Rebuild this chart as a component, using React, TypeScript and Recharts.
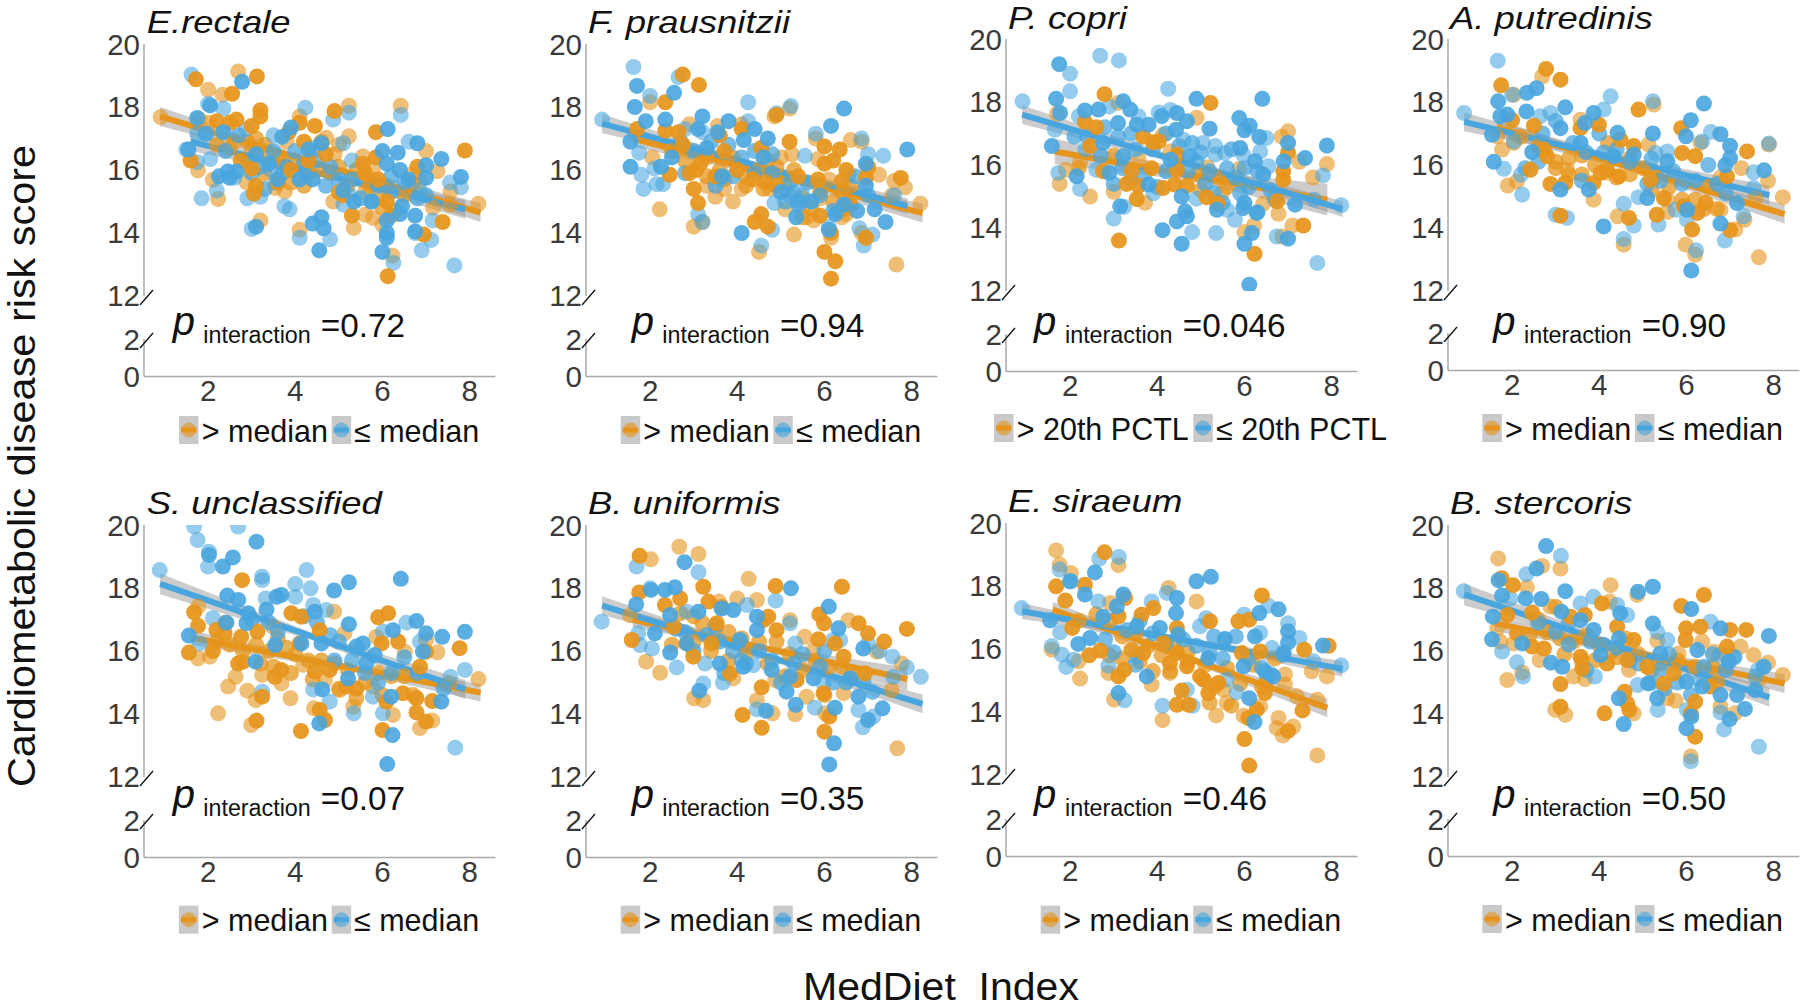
import React from "react";
import { ComposedChart, Scatter, Area, Line, XAxis, YAxis } from "recharts";

type P = [number, number];
type B = [number, number, number];

const xTicks = [2, 4, 6, 8];
const upperTicks = [12, 14, 16, 18, 20];
const lowerTicks = [0, 2];

// E. rectale
const p1OrangeLight: P[] = [[0.91,17.68],[2,18.55],[2.69,19.13],[2.33,18.39],[1.77,15.99],[2.11,15.69],[2.23,15.08],[2.88,15.61],[4.1,14.1],[3.2,14.4],[4.87,15],[5.23,18.04],[6.42,18.04],[8.2,14.93],[5.34,14.16],[5.55,16.43],[5.6,14.58],[5.78,14.48],[6,14.26],[6.23,13.28],[7,16.6],[7.26,15.96],[7.56,15.32],[7.16,14.8],[4.1,17.7],[5.23,17.07],[4.71,17.02],[3.53,15.43],[3.76,15.32],[6.66,15.85],[6.86,15.64],[5.78,16.01],[2,17.5],[1.8,17.6],[2.6,16.9],[3,16.6],[3.4,16.4],[3.8,16.9],[4.4,16.6],[4.9,16.5],[5,16.8],[5.6,15.3],[6.1,15.5],[7.55,14.9]];
const p1OrangeDark: P[] = [[1.72,18.88],[3.12,18.97],[2.55,18.42],[1.6,16.3],[3.2,17.9],[3.2,17.7],[2.65,17.6],[2.2,17.55],[2.5,17.5],[3,17.4],[3.1,15.5],[3.05,15.25],[4.9,17.87],[4.45,17.4],[4.1,17.5],[3.85,17.2],[4.2,16.9],[5.85,17.2],[5.85,16.4],[5.55,16.2],[6.8,16.1],[7.89,16.62],[7.38,14.35],[6.95,13.95],[6.12,12.63],[5.3,14.55],[6.2,14.55],[3,16.05],[2.75,16.3],[3.6,15.6],[3.9,16],[4.3,16.3],[4.7,16.5],[5.1,15.2],[5.6,15.9],[6.1,15],[5.9,15.7],[5,15.3]];
const p1OrangeCloud: P[] = [[3.1,17],[3.3,16.8],[2.9,16.9],[3.6,16.4],[3.7,16.2],[4,16.3],[4.3,15.9],[4.5,16],[4.2,15.5],[3.9,15.6],[3.3,15.9],[2.5,16.7],[2.2,16.8],[4.6,16.9],[5.4,16],[5.7,15.5],[5.9,15.1],[6,14.8],[6.3,14.7],[6.5,15.2],[6.7,15.6],[5.2,15.5],[4.8,15.9],[5,16.1]];
const p1BlueLight: P[] = [[1.62,19.03],[2,18.1],[2.35,17.95],[4.23,17.98],[4.87,17.6],[5.23,17.82],[6.42,17.75],[2.87,17.3],[1.85,15.1],[2.9,15.1],[3,14.13],[3.2,15.15],[3.75,14.85],[3.87,14.75],[4.1,13.85],[4.8,13.8],[6.9,13.45],[7.12,13.78],[7.65,12.97],[6.25,13.05],[6.75,14],[7.55,15.6],[7.8,15.45],[7.15,14.4],[6.6,16.9],[5.25,15.2],[5.1,14.9],[2.2,15.35],[1.75,16.25],[2.05,16.35],[2.6,15.75],[3.45,16],[3.5,17.1],[4.4,16.7],[5.3,16.3],[5.1,16.85],[5.75,15],[6.85,15.35],[1.5,16.65],[1.75,17.15],[3.55,15.6]];
const p1BlueDark: P[] = [[2.78,18.8],[1.75,17.65],[2.05,18.05],[1.95,17.15],[2.35,17.2],[1.55,16.65],[2.45,15.95],[2.25,15.8],[2.5,15.75],[2.65,15.95],[3.1,14.2],[3.7,17.05],[3.9,17.35],[4.3,16.65],[4.6,16.85],[6.12,17.3],[6,16.6],[6.35,16.55],[6.8,16.85],[7.35,16.35],[7,16.15],[7,15.75],[7.8,15.78],[6.75,14.55],[6.75,14.05],[6.1,13.85],[6.1,14],[6,13.4],[4.55,13.45],[4.4,14.3],[4.6,14.5],[4.65,14.15],[3.6,15.7],[4.1,15.7],[4.4,15.7],[5.1,15.35],[5.35,15],[5.75,15],[6.1,16.2],[6.4,16],[6.45,14.85],[6.4,14.6],[6.1,14.4],[6.6,15.7],[3.1,16.5],[3.4,16.2]];
const p1BlueCloud: P[] = [[2.7,17.1],[2.4,16.6],[2.9,16.3],[3.2,16.1],[3.5,16.6],[3.8,16.1],[4,16.6],[4.2,16.2],[4.5,16.3],[4.8,16.1],[3.3,15.4],[3.7,15.9],[4.2,15.9],[4.7,15.5],[5.3,15.7],[5.5,15.1],[5.9,15.5],[6.2,15.3],[6.5,15.6],[6.8,15.1],[7,15.2],[6.2,15.8],[5,15.7],[3,15.9]];
const p1OrangeLine: P[] = [[0.9,17.7],[8.25,14.65]];
const p1BlueLine: P[] = [[1.6,16.9],[7.9,14.75]];
const p1OrangeBand: B[] = [[0.9,17.4,18],[4.6,16.06,16.26],[8.25,14.35,14.95]];
const p1BlueBand: B[] = [[1.6,16.6,17.2],[4.75,15.73,15.93],[7.9,14.45,15.05]];

// F. prausnitzii
const p2OrangeLight: P[] = [[2.22,14.75],[3,14.2],[3.2,14.35],[5.3,13.95],[7.65,13],[8.2,14.93],[7.85,15.45],[7.6,15.65],[7.25,15.85],[7.55,15.2],[6.6,16.95],[6.85,16.9],[4.5,13.4],[4.85,17.7],[5.2,17.95],[2.05,16.4],[2,18.15],[6.85,14],[7,16.05],[5.6,14.5],[5.75,14.4],[6.15,13.85],[5.1,14.75],[2.9,17.45],[3.55,17.4],[4.1,17.45],[3.5,15.15],[3.9,15],[4.1,15.4],[5.25,16.5],[5,16.4],[5.8,17],[5.85,16.35],[5.9,15.1],[6.4,14.5],[6.5,14.6],[3.3,15.5],[3.7,15.4],[4.75,15.4],[6.1,15.7]];
const p2OrangeDark: P[] = [[2.75,19.03],[3.12,18.7],[2.35,18.15],[1.7,17.3],[2.35,17.25],[2.65,17.2],[2.75,16.8],[2.45,15.85],[3,15.4],[3.1,14.95],[2.9,15.9],[3.05,16],[4.9,17.75],[4.1,17.3],[3.6,17.1],[5.2,16.9],[6,16.75],[6.35,16.65],[6,16.2],[6.2,16.3],[6.5,16],[6.4,15.65],[6.95,15.75],[7.75,15.75],[7,16.1],[6,13.4],[6.25,13.1],[6.15,12.55],[6.95,13.85],[4.55,14.6],[4.4,14.35],[4.7,14.2],[5.9,14.55],[6.15,14],[6.6,14.9],[6.45,14.75],[3.7,16.6],[4,16],[4.35,15.7],[4.65,15.6],[3.15,16.2],[3.5,15.8],[4.55,16.7],[5.4,15.8],[5.85,15.7],[4.9,15.5]];
const p2OrangeCloud: P[] = [[3.3,16.4],[3.6,16],[3.9,16.4],[4.2,15.8],[4.5,16],[4.7,16.3],[3.3,15.8],[3.7,15.7],[4.2,15.5],[4.6,15.4],[5.1,15.4],[5.5,15.1],[5.7,14.8],[5.9,15.3],[6.2,15],[6.4,15.3],[6.6,15.5],[5.5,14.5],[2.8,16.3],[2.5,16.6],[4.9,16.1],[5.3,16]];
const p2BlueLight: P[] = [[0.9,17.6],[1.62,19.27],[2.65,18.95],[2,18.35],[4.25,18.15],[4.9,17.8],[5.23,18.03],[6.85,17],[7,16.5],[7.35,16.45],[1.75,16.55],[1.8,15.85],[1.85,15.4],[2.1,16.05],[2.15,15.55],[2.3,15.55],[3.2,14.35],[3.1,14.6],[4.55,13.6],[4.8,14.1],[4.85,14.95],[6.9,13.6],[7.1,13.95],[6.8,14.15],[5.55,16.45],[6.1,14.2],[4.25,17.55],[3.2,17.2],[2.8,17.3],[6.55,15.85],[7.6,15.2],[5.8,17.15],[5.5,15.2],[5.2,15.2],[3.6,15.7]];
const p2BlueDark: P[] = [[1.7,18.67],[2.55,18.45],[1.65,18],[1.9,17.55],[2.35,17.6],[3.2,17.7],[3.8,17.55],[4.15,16.95],[1.55,16.9],[1.55,16.1],[2.25,16.1],[2.5,16.4],[4.1,14],[6.45,17.95],[6.15,17.4],[6.95,16.2],[7.9,16.65],[6.95,15.5],[6.75,14.7],[7.15,14.75],[7.4,14.35],[5.35,14.5],[4.6,16.4],[4.7,17],[4.4,17.3],[5,15.3],[5.4,15],[5.7,15],[3.65,15.8],[3.1,17.3],[3.55,17.2],[6.25,14.6],[6.1,14.1],[3.3,16.7],[6.45,14.9]];
const p2BlueCloud: P[] = [[2.7,16.9],[3,16.6],[3.4,16.9],[3.8,16.8],[4.1,16.4],[4.4,16.6],[4.8,16.5],[3.5,15.5],[3.9,15.8],[4.4,15.9],[4.8,15.9],[5.2,15.6],[5.4,14.9],[5.6,15.6],[5.9,15.2],[6.2,14.7],[6.5,14.9],[7,15.2],[5.1,15],[5.3,15.3],[6.7,15.8],[2.8,15.9]];
const p2OrangeLine: P[] = [[1.6,17],[8.25,14.63]];
const p2BlueLine: P[] = [[0.9,17.47],[7.9,14.85]];
const p2OrangeBand: B[] = [[1.6,16.75,17.25],[4.9,15.72,15.92],[8.25,14.33,14.93]];
const p2BlueBand: B[] = [[0.9,17.17,17.77],[4.4,16.06,16.26],[7.9,14.6,15.1]];

// P. copri
const p3OrangeLight: P[] = [[1.7,17.63],[1.76,15.4],[1.9,15.85],[2.46,15],[3,15.15],[3.1,17.97],[4.9,17.5],[4.13,16.96],[7,17.07],[6.85,16.9],[7.26,16.1],[7.89,16.03],[7.57,15.6],[6.78,14.45],[7.1,14.08],[6.87,13.73],[6,13.87],[6.22,14.08],[5.88,15.87],[5.15,15.93],[3.72,14.8],[3.57,16.17],[6.43,14.77],[2.23,16.1],[5.48,15.1],[4.3,16.43]];
const p3OrangeDark: P[] = [[2.79,18.25],[5.22,17.97],[2.34,17.37],[2.6,17.2],[2.46,16.6],[3.68,16.9],[3.9,16.72],[4.03,16.75],[2.76,15.8],[3.41,15.8],[3.57,15.34],[3.3,15.4],[3.53,14.92],[3.12,13.6],[4.13,15.27],[3.87,15.9],[4.45,16.33],[4.45,15.85],[4.4,15.38],[4.68,15.34],[5.13,14.98],[5.38,14.77],[6.89,15.8],[6.89,15.53],[7,16.4],[7.35,14.08],[6.23,13.18],[6.75,14.85]];
const p3OrangeCloud: P[] = [[5.6,15.3],[4.9,15.7],[3,16.3],[2.2,15.9],[5,15.2],[5.4,15.6]];
const p3BlueLight: P[] = [[0.91,18.02],[2.69,19.47],[3.12,19.32],[2,18.9],[2,18.34],[4.25,18.42],[4.03,17.67],[4.3,17.75],[2.9,17.86],[1.65,17.12],[1.73,15.75],[2.23,15.24],[3,14.3],[3.24,14.67],[4.8,13.87],[5.35,13.84],[5.6,14.58],[5.78,14.26],[6.74,13.73],[7.67,12.89],[8.22,14.72],[7.8,15.67],[6.5,16.86],[6.36,16.43],[5.55,16.38],[5.33,16.33],[5.33,16.6],[3.57,17.54],[3.91,15.1],[4.9,14.93],[6.55,15.96],[2.6,15.85],[2.35,16.5],[5.97,16.33],[7.6,14.9],[2.2,17.55],[4.6,16.8],[5.05,16.7]];
const p3BlueDark: P[] = [[1.75,19.2],[1.68,18.1],[1.77,17.65],[1.58,16.6],[2.34,17.73],[2.65,17.76],[3.22,18.02],[3.38,17.76],[3.1,17.33],[3.53,17.28],[3.8,17.28],[4.1,17.55],[4.45,17.65],[4.68,17.39],[4.43,17.12],[4.9,18.1],[5.2,17.15],[5.88,17.49],[6.12,17.25],[6,17.1],[6.34,16.89],[6.41,18.1],[5.9,16.54],[6.24,16.12],[6.43,15.69],[6.9,16.12],[7,16.7],[7.39,16.22],[7.89,16.62],[7.16,14.74],[7,13.66],[6,13.5],[6.17,13.84],[6.11,12.2],[4.56,13.5],[4.12,13.93],[4.45,14.21],[4.64,14.53],[4.68,14.37],[4.56,15],[3.15,14.69],[3.8,15.38],[6,14.8],[5.97,14.63],[5.37,14.58],[6.28,14.48],[2.9,15.75],[2.15,15.64],[4.3,16.17],[4.75,16.28],[3.22,16.28],[2.76,16.7]];
const p3BlueCloud: P[] = [[2.4,16.9],[2.8,17.2],[3.1,16.9],[3.4,17],[3.5,16.5],[3.9,16.5],[4.2,17],[4.5,16.6],[4.8,16.7],[5,16.4],[4.4,16],[4.7,15.8],[5.1,15.4],[5.3,15.1],[5.6,15.9],[5.8,15.6],[5.9,15.1],[6.1,15.3],[6.3,15.8],[6.6,15.2],[6.3,14.5],[3.2,15.9],[3.4,15.5],[3.7,15.7],[3,15.4],[4,15.3],[4.2,15.8],[5.5,14.8],[6.7,14.9],[2.7,16.3],[2.1,16.9],[4.9,16.1],[5.2,15.8],[5.7,16.5],[6,15.9]];
const p3OrangeLine: P[] = [[1.65,16.43],[7.9,14.9]];
const p3BlueLine: P[] = [[0.9,17.6],[8.25,14.6]];
const p3OrangeBand: B[] = [[1.65,16.03,16.83],[4.8,15.5,15.82],[7.9,14.4,15.4]];
const p3BlueBand: B[] = [[0.9,17.3,17.9],[4.6,15.99,16.19],[8.25,14.35,14.85]];

// A. putredinis
const p4OrangeLight: P[] = [[2.69,18.81],[2.04,18.23],[1.77,16.49],[1.66,16.91],[1.9,15.35],[2.11,15.48],[3.26,15.85],[3.87,14.9],[5.56,14.51],[7.66,13.07],[8.21,14.98],[7.87,15.5],[7.26,15.9],[7.89,16.65],[7.12,13.95],[7.33,14.26],[6.78,14.58],[5.98,13.47],[6.2,13.15],[4.56,13.47],[4.42,14.37],[5.25,17.92],[3.57,17.44],[5.13,16.65],[6.32,16.7],[6.78,15.6],[5.56,14.9],[2.04,16.7],[7.58,14.95],[4.18,15.75]];
const p4OrangeDark: P[] = [[1.75,18.53],[2.78,19.05],[3.11,18.71],[2,17.42],[2.5,17.25],[2.42,15.85],[2.88,15.4],[3.22,15.43],[3.11,14.39],[2.8,16.28],[4.9,17.76],[5.88,17.17],[7.39,16.43],[7,13.93],[6.13,13.95],[5.32,14.42],[4.68,14.32],[3.99,17.28],[4.03,15.75],[3.87,15.43],[4.18,15.85],[4.45,15.64],[4.49,16.8],[4.79,16.6],[5.48,14.95],[5.94,14.69],[6.44,14.8],[6.25,14.48],[5.9,16.38],[6.2,16.28],[3.57,17.17],[5.17,15.53],[6.93,15.64],[2.73,16.49]];
const p4OrangeCloud: P[] = [[3,16.1],[3.3,16.2],[3.6,16.3],[3.9,16],[4.2,16.7],[4.4,15.6],[4.7,15.7],[3.6,15.7],[3.3,15.7],[3,15.9],[5,15.9],[5.3,15.6],[5.6,15.3],[5.9,14.9],[6.2,14.9],[6.5,15.3],[6.7,14.6],[6.4,14.6],[5.2,15.2],[4.7,16.2],[2.6,16.6],[2.2,16.9]];
const p4BlueLight: P[] = [[0.9,17.65],[1.67,19.31],[2,18.23],[4.26,18.18],[5.23,18.02],[1.81,15.88],[2.23,15.06],[2.2,15.69],[3,14.42],[3.26,14.32],[4.9,14.98],[4.79,14.08],[4.56,13.65],[4.56,14.77],[5.36,14.11],[6.36,16.75],[6.56,17.05],[6.88,13.6],[6.22,13.29],[7.89,16.68],[7.54,15.77],[7.54,15.27],[2.88,17.65],[5.29,16.38],[5.56,16.43],[4.1,17.76],[2.04,16.75],[2.65,17.55],[5.75,14.58],[7.31,14.37],[6.01,14.26]];
const p4BlueDark: P[] = [[1.68,18.02],[2.34,18.29],[2.56,18.44],[1.73,17.55],[1.89,17.6],[2.33,17.7],[1.58,16.1],[1.54,16.96],[2.46,16.41],[3.22,17.83],[3.11,17.17],[3.87,17.65],[4.1,14.05],[3.11,15.22],[3.76,15.22],[3.67,17.33],[5.23,17],[6.4,17.95],[6.1,17.42],[5.99,16.91],[6.78,16.98],[7,16.61],[7,16.22],[6.89,15.99],[7.78,15.83],[7.16,14.79],[6.78,14.14],[6.11,12.65],[5.1,14.95],[6.02,14.58],[5.56,16.12],[4.42,17.02],[4.33,16.28],[4.79,16.33],[3.57,16.7]];
const p4BlueCloud: P[] = [[2.7,17],[3,17.4],[3.4,16.7],[3.7,16.4],[4.1,16.4],[4.4,16.5],[4.7,16.1],[4,17],[3.6,15.5],[5.1,15.4],[5.4,15.5],[5.7,15.8],[5.9,15.4],[6.2,15.5],[6.5,16],[6.7,15.4],[6.9,15.1],[5.2,16.2],[2.3,15.9],[2.6,16.1]];
const p4OrangeLine: P[] = [[1.65,17.2],[8.25,14.44]];
const p4BlueLine: P[] = [[0.9,17.37],[7.9,15.04]];
const p4OrangeBand: B[] = [[1.65,16.95,17.45],[4.95,15.72,15.92],[8.25,14.14,14.74]];
const p4BlueBand: B[] = [[0.9,17.07,17.67],[4.4,16.1,16.3],[7.9,14.74,15.34]];

// S. unclassified
const p5OrangeLight: P[] = [[1.77,17.41],[2.23,14.02],[2.46,14.87],[2.63,15.18],[2.9,14.74],[3.09,14.44],[2.99,13.65],[1.77,15.77],[2.04,15.82],[3.24,15.24],[3.68,14.97],[3.89,14.5],[4.43,14.18],[4.89,17.25],[5.33,14.23],[6.24,13.97],[6.86,13.55],[7.14,13.79],[7.26,15.96],[7,16.35],[8.2,15.11],[7.54,14.97],[4.68,15.08],[5.02,14.76],[5.86,16.45],[5.13,16.56],[4.18,15.56],[3.49,16.77],[6.51,15.98],[5.78,14.87]];
const p5OrangeDark: P[] = [[1.68,17.23],[1.77,16.8],[1.56,15.95],[2.11,16],[2.19,16.67],[2.78,18.25],[2.38,16.56],[2.76,16.45],[2.69,15.6],[2.8,15.66],[3.13,16.61],[3.24,14.55],[3.11,13.79],[3.91,17.2],[4.14,17.09],[3.53,15.18],[3.68,15.4],[4.13,13.46],[4.56,14.13],[4.68,13.81],[4.45,15.35],[4.79,15.4],[4.56,16.66],[5.9,17.07],[6.13,17.2],[5.98,16.24],[6.36,16.3],[7,15.98],[7.77,16.09],[6.86,15.5],[6.78,14.5],[6.78,14.05],[7,13.76],[7.14,14.41],[6,13.49],[6.09,14.39],[5.17,14.87],[5.4,14.81],[6.47,14.66],[4.1,16.24]];
const p5OrangeCloud: P[] = [[2.2,16.3],[2.5,16.2],[2.8,16],[3.1,16.2],[3.4,16],[3.6,16.4],[3.8,16.1],[4,15.9],[4.3,15.7],[4.6,15.7],[3.2,15.6],[3.5,15.5],[3.9,15.3],[4.4,15.1],[4.9,15.6],[5.2,15.4],[5.4,14.5],[5.6,15],[5.9,15.3],[6.2,15.2],[6.5,15.2],[6.7,14.6],[5,14.8],[6,14.6],[2.4,16.9]];
const p5BlueLight: P[] = [[0.89,18.57],[1.68,19.95],[1.76,19.52],[2,18.68],[2.02,19.15],[2.69,19.95],[3.24,18.36],[3.24,18.25],[4.26,18.57],[4,18.13],[4.35,17.99],[4,17.72],[2.11,17.04],[3.32,17.67],[4.41,17.46],[4.71,17.3],[6.55,16.9],[6.86,16.3],[7.89,15.4],[7.56,15.18],[7.67,12.93],[5.34,14.02],[6.01,14.02],[4.79,14.39],[4.41,14.78],[5.78,14.55],[3.24,14.71],[6.01,16.61],[1.81,16.24]];
const p5BlueDark: P[] = [[2.34,18.68],[2.57,18.97],[2.02,19.05],[3.11,19.47],[4.89,17.92],[5.23,18.18],[6.42,18.29],[2.44,17.76],[2.69,17.62],[3.57,17.72],[3.68,17.78],[3.34,17.32],[2.92,17.2],[4.45,17.25],[2.88,16.88],[1.56,16.49],[2.42,16.9],[5.23,16.85],[6.78,16.95],[7,16.56],[7.37,16.45],[7.89,16.61],[7.35,14.39],[6.23,13.33],[6.11,12.41],[4.55,13.7],[4.62,14.78],[4.14,16.24],[3.54,16.19],[3.09,15.66],[5.55,16.24],[5.4,16.14],[5.63,15.61],[5.82,15.87],[5.21,15.13],[6.2,14.55],[4.6,16.24],[6.24,16.66],[6.93,15.98]];
const p5BlueCloud: P[] = [[3,17],[3.4,16.9],[3.6,16.6],[4.2,17.1],[4.5,16.9],[4.8,16.5],[5,16.3],[4.9,15.7],[5.3,15.7],[5.6,15.3],[5.9,15],[6.2,15.3],[6.5,15.8],[6.8,15.3],[7.4,14.8]];
const p5OrangeLine: P[] = [[1.6,16.43],[8.25,14.68]];
const p5BlueLine: P[] = [[0.9,18.13],[7.9,14.78]];
const p5OrangeBand: B[] = [[1.6,16.2,16.66],[4.9,15.46,15.66],[8.25,14.4,14.96]];
const p5BlueBand: B[] = [[0.9,17.8,18.46],[4.4,16.33,16.57],[7.9,14.48,15.08]];

// B. uniformis
const p6OrangeLight: P[] = [[2.67,19.31],[2.02,18.91],[3.11,19.08],[4.26,18.29],[3.58,17.57],[4,17.67],[4.45,17.62],[1.91,15.66],[2.23,15.31],[3.01,14.5],[3.22,14.44],[4.45,14.44],[4.81,14.02],[5.33,13.99],[3.91,15.13],[5.59,14.55],[5.55,16.45],[6.55,16.98],[5.21,16.98],[6.01,14.02],[6.44,14.66],[7.67,12.91],[7.54,14.76],[7.77,15.6],[7.2,15.98],[1.54,17.14],[5.75,16.03],[4.87,15.08]];
const p6OrangeDark: P[] = [[1.76,19.02],[1.75,17.86],[2.69,17.67],[2.34,17.46],[3.22,18.04],[1.58,16.35],[3.34,17.57],[4.88,18.06],[6.4,18.04],[5.88,17.16],[5.99,16.88],[6.78,16.88],[7,16.56],[7.37,16.3],[7.89,16.7],[5.86,16.37],[6.24,16.24],[4.56,14.85],[4.12,13.97],[4.56,13.56],[6,13.44],[6.11,13.92],[5.98,14.66],[2.99,15.82],[2.54,16.77],[2.84,16.24],[3.53,16.88],[3.41,16.24],[3.83,15.29],[4.6,16.98],[4.71,17.09],[4.9,16.66],[6.44,15.82],[6.93,15.29],[5.36,15.08],[3.64,17.4]];
const p6OrangeCloud: P[] = [[3,17.1],[3.2,16.9],[3.5,16.7],[3.8,16.6],[4.1,16.4],[4.5,16.3],[4.9,16.3],[5.2,15.9],[3,16.3],[3.4,16],[3.8,15.7],[4.2,15.9],[4.7,15.6],[5.1,15.2],[5.5,15.4],[5.8,15.7],[6.1,15.5],[6.4,15.5],[6,14.6],[6.6,15.2],[2.5,16.2],[2.7,17.2]];
const p6BlueLight: P[] = [[0.89,16.93],[1.69,18.68],[3.11,18.5],[2,17.99],[4.88,17.6],[5.21,16.88],[1.73,16.56],[1.77,16.19],[2.04,16.08],[2.61,15.48],[3.22,14.97],[3.67,15],[4.45,14.15],[5.78,14.2],[5.98,14.97],[6.2,16.35],[6.36,16.35],[7.26,16],[7.56,15.82],[7.89,15.48],[8.21,15.18],[7.58,15.18],[6.88,13.58],[7.12,13.92],[6.78,14.13],[2.84,17.25],[4.22,17.46],[5.33,16.24],[7,16.24],[3.26,15.6],[4.37,15.55]];
const p6BlueDark: P[] = [[2.79,18.82],[2.02,17.94],[2.34,17.94],[2.57,18.02],[5.23,17.99],[6.1,17.41],[1.68,17.48],[2.11,16.56],[2.46,15.95],[2.46,17.14],[3.11,17.25],[3.13,14.74],[3.64,17.35],[3.91,17.3],[4.45,17.09],[4.45,16.66],[3.6,15.6],[4.14,15.5],[4.66,14.1],[5.34,14.29],[6.32,16.72],[6.89,16.08],[7,13.81],[7.33,14.18],[6.78,14.55],[6.22,13.07],[6.11,12.4],[6.24,14.2],[5.13,14.71],[5.21,15.18],[5.75,15.13],[6.59,15.13],[4.79,15.4],[2.84,16.24],[4.06,16.35]];
const p6BlueCloud: P[] = [[2.6,16.7],[3,16],[3.3,16.5],[3.6,16.3],[3.9,16],[4.2,15.6],[4.5,16],[4.8,15.7],[5,15],[5.3,15.6],[5.5,15.9],[5.9,15.5],[6.2,15],[6.5,15],[6.9,15],[7.1,14.7],[3.7,15.3],[4.1,15.7],[2.8,16.6],[3.5,16.8],[6,16]];
const p6OrangeLine: P[] = [[1.6,17],[7.9,15.11]];
const p6BlueLine: P[] = [[0.9,17.44],[8.25,14.32]];
const p6OrangeBand: B[] = [[1.6,16.75,17.25],[4.75,15.95,16.15],[7.9,14.75,15.47]];
const p6BlueBand: B[] = [[0.9,17.14,17.74],[4.6,15.77,15.97],[8.25,14.02,14.62]];

// E. siraeum
const p7OrangeLight: P[] = [[1.68,19.13],[1.76,18.68],[2.02,18.41],[1.58,15.98],[2.23,15.06],[2.19,15.61],[2.88,15.24],[3.01,14.39],[3.11,18.66],[4.26,17.94],[4.9,17.51],[4.12,13.74],[3.87,14.87],[5.35,13.89],[5.59,14.29],[6.78,13.81],[6.74,13.49],[6.88,13.25],[7.12,13.54],[5.98,13.88],[6.36,14.18],[7.67,14.39],[7.67,12.62],[7.89,15.13],[7.54,15.29],[6.93,15.19],[6.93,14.87],[2.92,17.46],[4.29,15.24],[5.06,15.03],[5.52,14.71],[7.2,14.5]];
const p7OrangeDark: P[] = [[2.79,19.07],[1.68,17.99],[2.34,18.04],[1.89,17.54],[2.05,16.67],[2.44,15.8],[2.69,15.95],[3.11,15.13],[3.24,15.34],[3.11,17.04],[3.26,17.62],[3.64,17.09],[3.91,17.3],[4.45,14.23],[4.56,14.68],[4.72,14.23],[5.21,16.88],[5.86,16.88],[6.11,16.93],[6.4,17.7],[7.37,15.98],[7.93,16.1],[7.33,14.05],[7,13.4],[6,13.14],[6.11,12.3],[6.09,13.81],[6.28,14.08],[5.17,14.6],[5.06,15.03],[4.45,16.67],[4.45,15.87],[4.14,16.19],[4.68,15.45],[4.29,15.55],[6.47,14.6],[3.41,15.98],[3.68,15.87],[4.98,15.13],[5.4,14.92],[5.94,15.87],[6.36,15.92]];
const p7OrangeCloud: P[] = [[2.6,17.1],[2.9,16.9],[3.2,16.4],[3.5,16.5],[3.8,16.1],[4.1,15.8],[4.4,16.1],[4.7,15.9],[3.2,15.7],[3.6,15.6],[3.9,15.3],[4.3,15.3],[4.7,15.6],[5.1,15.5],[5.3,14.8],[5.6,15.4],[5.9,14.9],[6.2,15.5],[6.5,15],[6.7,15.7],[6.4,14.8],[5.2,14.3],[5.7,14.2],[2.2,16.9],[2.9,15.8]];
const p7BlueLight: P[] = [[0.89,17.3],[2.67,18.87],[3.12,18.92],[1.76,18.52],[2.02,18.15],[1.77,16.53],[1.58,16.09],[1.81,15.82],[1.91,15.43],[2.08,15.66],[2.88,15.47],[3.25,14.37],[4.12,14.2],[4.68,14.71],[4.81,14.2],[5.82,14.63],[5.12,16.98],[4.98,16.72],[4.22,17.78],[3.87,17.51],[5.99,17.09],[6.55,17.37],[7,16.82],[7.26,16.35],[7.58,15.61],[8.22,15.48],[5.55,16.3],[6.36,16.51],[6.63,16.03],[5.59,15.03],[3.53,15.77],[2.65,17.51]];
const p7BlueDark: P[] = [[2.57,18.43],[4.9,18.15],[5.23,18.29],[2,18.15],[2.34,17.73],[3.22,17.73],[3.07,17.35],[2.76,17.02],[1.54,16.91],[2.19,16.16],[2.46,16.35],[3.11,14.6],[3.76,15.13],[4.45,17.62],[4.43,17.14],[4.06,16.67],[4.48,16.46],[6.78,17.26],[6.34,17.14],[5.55,16.32],[6.24,16.4],[7,16.56],[7,16.21],[7.8,16.11],[6.23,13.68],[6.11,14.44],[6.47,15.29],[6.66,15.13],[5.17,15.71],[5.98,15.45],[3.53,16.72],[6.89,15.82]];
const p7BlueCloud: P[] = [[2.8,16.3],[3.3,16.6],[3.6,16.9],[3.9,16.5],[4.2,16.2],[4.6,16.3],[4.9,16.1],[5.2,15.9],[5.5,15.7],[5.8,16.4],[6.1,15.7],[6.4,15.4],[6.6,15.2],[6.9,15.9],[3.5,15.5],[3,15.9],[5.3,16.4]];
const p7OrangeLine: P[] = [[1.6,17.25],[7.9,14.13]];
const p7BlueLine: P[] = [[0.9,17.2],[8.25,15.37]];
const p7OrangeBand: B[] = [[1.6,17,17.5],[4.75,15.59,15.79],[7.9,13.83,14.43]];
const p7BlueBand: B[] = [[0.9,16.95,17.45],[4.6,16.2,16.36],[8.25,15.12,15.62]];

// B. stercoris
const p8OrangeLight: P[] = [[1.68,18.94],[2.69,18.7],[2.34,18.02],[3.11,18.62],[4.26,18.09],[4.24,17.57],[2.88,17.41],[1.66,16.72],[1.73,16.3],[2.04,16.24],[1.89,15.08],[2.23,15.32],[2.63,15.71],[2.99,14.13],[3.22,13.97],[3.41,15.19],[3.67,15.11],[4.79,14.02],[5.56,14.5],[5.75,14.42],[5.33,16.32],[6.78,14.23],[7.11,14.02],[7.24,16.14],[7.54,15.87],[7.87,15.63],[8.21,15.24],[6.1,12.65],[6.36,16.3],[7.66,15.08],[4.87,17.78],[4.68,15.4],[6.63,15.98],[5.82,15.92],[6.89,15.87]];
const p8OrangeDark: P[] = [[1.76,18.31],[2.02,18.09],[2.46,17.22],[1.89,17.14],[2.46,16.14],[2.11,16.56],[2.73,16.08],[3.11,14.95],[3.11,14.23],[4.12,14.02],[4.58,14.71],[4.64,14.34],[4.69,14.13],[3.67,17.14],[4.06,17.51],[4.41,16.77],[3.57,15.82],[3.61,15.45],[5.88,17.43],[6.4,17.78],[6.32,16.77],[5.99,16.72],[5.98,16.35],[7,16.67],[7.37,16.67],[6.93,16.14],[6.2,13.28],[6.1,14.02],[6.2,14.39],[5.48,14.97],[5.1,15.5],[5.71,15.29],[4.79,16.35],[3.34,17.09],[6.55,14.87],[4.64,15.71],[4.18,15.6]];
const p8OrangeCloud: P[] = [[2.8,16.6],[3.1,16.4],[3.4,16.3],[3.7,16.5],[4,16.2],[4.3,16],[4.6,16.4],[3.2,15.9],[3.6,15.7],[3.9,15.7],[4.4,15.8],[4.9,15.9],[5.2,15.4],[5.4,15.6],[5.8,15.7],[6.2,15.5],[6.6,15.5],[6.7,15],[2.4,16.5],[2.6,17],[3,17.4]];
const p8BlueLight: P[] = [[0.89,17.9],[3.12,19.02],[2.33,18.44],[1.77,15.98],[2.11,15.64],[2.25,15.19],[3.9,15.19],[4.88,14.92],[5.34,14.13],[6.01,14.13],[6.86,13.51],[7.66,12.96],[6.78,14.05],[6.1,12.5],[6.55,16.93],[5.56,16.35],[7.64,15.4],[7.58,15.19],[4.41,17.46],[3.87,17.72],[3.57,17.51],[4.64,17.14],[6.32,15.08],[7.09,15.82],[1.96,17.67],[5.33,16.61],[6.78,15.87]];
const p8BlueDark: P[] = [[2.78,19.33],[2.56,18.62],[1.69,18.25],[1.77,17.76],[2.67,17.65],[2.31,17.67],[1.56,17.09],[1.54,16.37],[2.23,16.24],[3.22,17.9],[3.13,17.25],[2.89,15.63],[3.15,15.5],[4.89,17.88],[5.23,18.04],[6.11,17.33],[6.78,16.72],[7.89,16.48],[7.77,15.5],[6.97,15.66],[7.16,14.6],[7.34,14.16],[6.99,13.84],[6.78,14.6],[6,13.55],[6.11,13.92],[4.56,13.68],[4.45,14.5],[5.33,14.5],[5.23,16.87],[6,15.03],[5.12,14.97],[4.03,15.87],[3.87,16.67],[4.45,16.4],[4.48,17.2],[5.4,15.92],[6.25,16.03],[6.36,14.87],[7.58,14.76],[3.57,16.98]];
const p8BlueCloud: P[] = [[2.6,16.9],[3,16.6],[3.3,16.9],[3.8,16.3],[4.1,16.2],[4.4,16.1],[4.7,15.7],[3.7,15.4],[4.9,15.6],[5.2,15],[5.4,15.4],[5.6,15.9],[5.8,15],[6.1,14.6],[6.4,15.5],[6.6,15.9],[6.9,15.4],[7.1,15.8],[5.5,14.8],[3.3,16.2]];
const p8OrangeLine: P[] = [[1.6,16.88],[8.25,14.97]];
const p8BlueLine: P[] = [[0.9,17.8],[7.9,14.53]];
const p8OrangeBand: B[] = [[1.6,16.63,17.13],[4.9,15.83,16.03],[8.25,14.67,15.27]];
const p8BlueBand: B[] = [[0.9,17.45,18.15],[4.4,16.06,16.28],[7.9,14.23,14.83]];

const titles = ["E.rectale","F. prausnitzii","P. copri","A. putredinis","S. unclassified","B. uniformis","E. siraeum","B. stercoris"];
const pValues = ["=0.72","=0.94","=0.046","=0.90","=0.07","=0.35","=0.46","=0.50"];
const medianLabels = ["> median","≤ median"];
const pctlLabels = ["> 20th PCTL","≤ 20th PCTL"];

const series = [
  [p1OrangeLight,p1OrangeDark,p1BlueLight,p1BlueDark,p1OrangeLine,p1BlueLine,p1OrangeBand,p1BlueBand,p1OrangeCloud,p1BlueCloud],
  [p2OrangeLight,p2OrangeDark,p2BlueLight,p2BlueDark,p2OrangeLine,p2BlueLine,p2OrangeBand,p2BlueBand,p2OrangeCloud,p2BlueCloud],
  [p3OrangeLight,p3OrangeDark,p3BlueLight,p3BlueDark,p3OrangeLine,p3BlueLine,p3OrangeBand,p3BlueBand,p3OrangeCloud,p3BlueCloud],
  [p4OrangeLight,p4OrangeDark,p4BlueLight,p4BlueDark,p4OrangeLine,p4BlueLine,p4OrangeBand,p4BlueBand,p4OrangeCloud,p4BlueCloud],
  [p5OrangeLight,p5OrangeDark,p5BlueLight,p5BlueDark,p5OrangeLine,p5BlueLine,p5OrangeBand,p5BlueBand,p5OrangeCloud,p5BlueCloud],
  [p6OrangeLight,p6OrangeDark,p6BlueLight,p6BlueDark,p6OrangeLine,p6BlueLine,p6OrangeBand,p6BlueBand,p6OrangeCloud,p6BlueCloud],
  [p7OrangeLight,p7OrangeDark,p7BlueLight,p7BlueDark,p7OrangeLine,p7BlueLine,p7OrangeBand,p7BlueBand,p7OrangeCloud,p7BlueCloud],
  [p8OrangeLight,p8OrangeDark,p8BlueLight,p8BlueDark,p8OrangeLine,p8BlueLine,p8OrangeBand,p8BlueBand,p8OrangeCloud,p8BlueCloud],
] as any[][];

// Layout of each panel, in page pixels
const layouts = [
  { ax: 144.3, top: 44.3, y0: 376.7, titleX: 146.7, titleY: 32.7, pX: 172.7, iX: 203.3, eqX: 320.7, pY: 335, s1: 179, t1: 201.7, s2: 331.7, t2: 354, legY: 416 },
  { ax: 586.3, top: 44.3, y0: 376.7, titleX: 588, titleY: 32.7, pX: 631.7, iX: 662.3, eqX: 780, pY: 335, s1: 620.7, t1: 643.3, s2: 773.3, t2: 796, legY: 416 },
  { ax: 1006, top: 39.3, y0: 371, titleX: 1008, titleY: 29, pX: 1034, iX: 1065, eqX: 1182.7, pY: 335, s1: 994, t1: 1016.7, s2: 1193.3, t2: 1216, legY: 414 },
  { ax: 1448.3, top: 39.3, y0: 370, titleX: 1450, titleY: 29, pX: 1493.3, iX: 1524, eqX: 1641.7, pY: 335, s1: 1482.3, t1: 1505, s2: 1635, t2: 1657.7, legY: 414 },
  { ax: 144.3, top: 525, y0: 857.7, titleX: 146.7, titleY: 514.3, pX: 172.7, iX: 203.3, eqX: 320.7, pY: 808, s1: 179, t1: 201.7, s2: 331.7, t2: 354, legY: 905.7 },
  { ax: 586.3, top: 525, y0: 857.7, titleX: 588, titleY: 514.3, pX: 631.7, iX: 662.3, eqX: 780, pY: 808, s1: 620.7, t1: 643.3, s2: 773.3, t2: 796, legY: 905.7 },
  { ax: 1006, top: 523.3, y0: 856, titleX: 1008, titleY: 512.3, pX: 1034, iX: 1065, eqX: 1182.7, pY: 808, s1: 1040.7, t1: 1063.3, s2: 1193.3, t2: 1216, legY: 905.7 },
  { ax: 1448.3, top: 525, y0: 856, titleX: 1450, titleY: 514.3, pX: 1493.3, iX: 1524, eqX: 1641.7, pY: 808, s1: 1482.3, t1: 1505, s2: 1635, t2: 1657.7, legY: 905 },
];

const FONT = "'Liberation Sans', Arial, sans-serif";
const ORANGE = "#E6951C";
const BLUE = "#48A5DE";
const BAND = "#8f8f8f";
const AXIS = "#a9a9a9";
const TICK = "#3a3a3a";
const TICK_SIZE = 29.5;
const X_DOMAIN: [number, number] = [0.53, 8.59];
const PLOT_W = 351.4;
const UP_H = 252;
const LOW_H = 37.5;
const GUTTER = 50;
const PAD = 15;

const dot = (fill: string, op: number) => (p: any) => (
  <circle cx={p.cx} cy={p.cy} r={8} fill={fill} fillOpacity={op} />
);

const YTick = (p: any) => {
  const v = p.payload.value;
  return (
    <g>
      <text x={p.x} y={p.y} dy={10.5} textAnchor="end" fontSize={TICK_SIZE} fontFamily={FONT} fill={TICK}>{v}</text>
      {(v === 12 || v === 2) && (
        <line x1={p.x} y1={p.y + 9} x2={p.x + 13} y2={p.y - 6} stroke="#111" strokeWidth={1.3} />
      )}
    </g>
  );
};

const pts = (a: P[]) => a.map(([x, y]) => ({ x, y }));
const band = (a: B[]) => a.map(([x, lo, hi]) => ({ x, range: [lo, hi] }));

function Panel({ i }: { i: number }) {
  const l = layouts[i];
  const [ol, od, bl, bd, oLine, bLine, oBand, bBand, oc, bc] = series[i];
  return (
    <>
      <div style={{ position: "absolute", left: l.ax - GUTTER, top: l.top - PAD }}>
        <ComposedChart width={GUTTER + PLOT_W + 20} height={PAD + UP_H + PAD} margin={{ top: PAD, right: 20, bottom: PAD, left: 0 }}>
          <XAxis type="number" dataKey="x" domain={X_DOMAIN} allowDataOverflow hide ticks={xTicks} />
          <YAxis type="number" dataKey="y" domain={[12, 20]} allowDataOverflow ticks={upperTicks} interval={0} width={GUTTER}
            axisLine={{ stroke: AXIS, strokeWidth: 1.5 }} tickLine={false} tickSize={0} tickMargin={4} tick={YTick} />
          <Scatter data={pts(ol)} shape={dot(ORANGE, 0.6)} isAnimationActive={false} />
          <Scatter data={pts(oc)} shape={dot(ORANGE, 0.75)} isAnimationActive={false} />
          <Scatter data={pts(bl)} shape={dot(BLUE, 0.58)} isAnimationActive={false} />
          <Scatter data={pts(bc)} shape={dot(BLUE, 0.75)} isAnimationActive={false} />
          <Scatter data={pts(od)} shape={dot(ORANGE, 0.93)} isAnimationActive={false} />
          <Scatter data={pts(bd)} shape={dot(BLUE, 0.9)} isAnimationActive={false} />
          <Area data={band(oBand)} dataKey="range" stroke="none" fill={BAND} fillOpacity={0.45} dot={false} activeDot={false} isAnimationActive={false} />
          <Area data={band(bBand)} dataKey="range" stroke="none" fill={BAND} fillOpacity={0.45} dot={false} activeDot={false} isAnimationActive={false} />
          <Line data={pts(oLine)} dataKey="y" stroke={ORANGE} strokeWidth={6} dot={false} activeDot={false} isAnimationActive={false} />
          <Line data={pts(bLine)} dataKey="y" stroke={BLUE} strokeWidth={6} dot={false} activeDot={false} isAnimationActive={false} />
        </ComposedChart>
      </div>
      <div style={{ position: "absolute", left: l.ax - GUTTER, top: l.y0 - LOW_H - PAD }}>
        <ComposedChart width={GUTTER + PLOT_W + 20} height={PAD + LOW_H + 40} margin={{ top: PAD, right: 20, bottom: 0, left: 0 }}>
          <XAxis type="number" dataKey="x" domain={X_DOMAIN} allowDataOverflow ticks={xTicks} interval={0} height={40}
            axisLine={{ stroke: AXIS, strokeWidth: 1.5 }} tickLine={false} tickSize={0} tickMargin={4}
            tick={{ fontSize: TICK_SIZE, fontFamily: FONT, fill: TICK }} />
          <YAxis type="number" dataKey="y" domain={[0, 2]} allowDataOverflow ticks={lowerTicks} interval={0} width={GUTTER}
            axisLine={{ stroke: AXIS, strokeWidth: 1.5 }} tickLine={false} tickSize={0} tickMargin={4} tick={YTick} />
          <Scatter data={[]} isAnimationActive={false} />
        </ComposedChart>
      </div>
    </>
  );
}

function Swatch({ x, y, color }: { x: number; y: number; color: string }) {
  return (
    <g>
      <rect x={x} y={y} width={19.5} height={28} fill="#c9c9c9" />
      <circle cx={x + 9.75} cy={y + 14} r={7.5} fill={color} fillOpacity={0.6} />
      <line x1={x + 2} x2={x + 17.5} y1={y + 14} y2={y + 14} stroke={color} strokeWidth={5} />
    </g>
  );
}

export default function App() {
  return (
    <div style={{ position: "absolute", left: 0, top: 0, width: 1800, height: 1008, background: "#fff", overflow: "hidden" }}>
      {layouts.map((_, i) => <Panel key={i} i={i} />)}
      <svg width={1800} height={1008} style={{ position: "absolute", left: 0, top: 0, pointerEvents: "none" }} fontFamily={FONT} fill="#111">
        <text transform="translate(35,466) rotate(-90) scale(1.09,1)" textAnchor="middle" fontSize={38}>Cardiometabolic disease risk score</text>
        <text transform="translate(941,999.5) scale(1.08,1)" textAnchor="middle" fontSize={38} xmlSpace="preserve">MedDiet  Index</text>
        {layouts.map((l, i) => {
          const labels = i === 2 ? pctlLabels : medianLabels;
          return (
            <g key={i}>
              <text transform={`translate(${l.titleX},${l.titleY}) scale(1.14,1)`} fontSize={32} fontStyle="italic">{titles[i]}</text>
              <text x={l.pX} y={l.pY} fontSize={40} fontStyle="italic">p</text>
              <text x={l.iX} y={l.pY + 8} fontSize={23.3}>interaction</text>
              <text x={l.eqX} y={l.pY + 1.7} fontSize={33.3}>{pValues[i]}</text>
              <Swatch x={l.s1} y={l.legY} color={ORANGE} />
              <Swatch x={l.s2} y={l.legY} color={BLUE} />
              <text x={l.t1} y={l.legY + 25.7} fontSize={30.5}>{labels[0]}</text>
              <text x={l.t2} y={l.legY + 25.7} fontSize={30.5}>{labels[1]}</text>
            </g>
          );
        })}
      </svg>
    </div>
  );
}
